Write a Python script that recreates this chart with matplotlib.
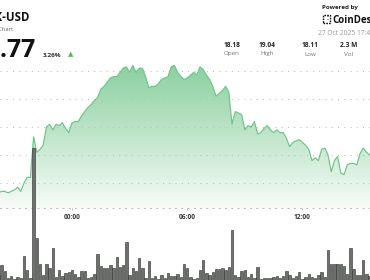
"""Price area chart with volume bars, cropped CoinDesk style card."""

import matplotlib

matplotlib.use("Agg")

import matplotlib.pyplot as plt
import numpy as np
from matplotlib.patches import Rectangle

plt.rcParams["font.family"] = ["Open Sans", "DejaVu Sans"]

# 10-minute candles, hours relative to 00:00 (first one is 20:10 the day before)
START_HOUR = -3.0 - 50 / 60
STEP_HOUR = 1 / 6

close_price = [
    18.13, 18.14, 18.14, 18.13, 18.14, 18.15, 18.17, 18.14, 18.20, 18.24,
    18.24, 18.53, 18.42, 18.44, 18.47, 18.60, 18.62, 18.58, 18.62, 18.61,
    18.63, 18.59, 18.56, 18.63, 18.64, 18.64, 18.68, 18.71, 18.74, 18.76,
    18.79, 18.81, 18.87, 18.89, 18.92, 18.95, 18.96, 18.96, 18.99, 19.02,
    19.03, 18.99, 19.04, 18.99, 19.02, 19.02, 18.96, 18.88, 18.89, 18.89,
    18.91, 18.94, 18.95, 18.96, 19.03, 19.04, 18.99, 18.96, 18.94, 18.95,
    18.97, 18.99, 18.97, 19.03, 19.01, 18.97, 18.94, 18.89, 18.82, 18.84,
    18.86, 18.89, 18.85, 18.62, 18.71, 18.70, 18.69, 18.58, 18.61, 18.60,
    18.64, 18.55, 18.56, 18.59, 18.61, 18.58, 18.56, 18.58, 18.56, 18.56,
    18.52, 18.46, 18.49, 18.50, 18.51, 18.49, 18.47, 18.44, 18.36, 18.38,
    18.36, 18.44, 18.45, 18.40, 18.28, 18.36, 18.39, 18.27, 18.26, 18.33,
    18.34, 18.34, 18.33, 18.41, 18.45, 18.42, 18.40, 18.40,
]

volume_k = [
    5, 15, 9, 2, 4, 1, 3, 2, 24, 10,
    2, 132, 42, 16, 5, 16, 12, 32, 3, 10,
    4, 7, 8, 10, 6, 3, 9, 9, 2, 3,
    6, 26, 14, 12, 12, 15, 12, 23, 13, 15,
    38, 5, 12, 9, 22, 12, 2, 19, 2, 4,
    1, 5, 2, 7, 4, 4, 6, 3, 16, 12,
    3, 1, 2, 10, 20, 7, 5, 8, 11, 11,
    12, 10, 13, 50, 5, 3, 9, 10, 3, 6,
    2, 13, 1, 2, 2, 2, 3, 4, 2, 4,
    9, 5, 2, 4, 8, 1, 3, 6, 3, 2,
    5, 8, 3, 30, 16, 16, 16, 16, 14, 6,
    32, 11, 5, 5, 20, 6, 4, 3,
]

tick_hours = [0, 6, 12]
tick_labels = ["00:00", "06:00", "12:00"]
grid_prices = [18.2, 18.4, 18.6, 18.8, 19.0]

stats_values = ["18.18", "19.04", "18.11", "2.3 M"]
stats_names = ["Open", "High", "Low", "Vol"]

W, H = 370, 280
XLIM = (-3.75, 15.52)
PRICE_YLIM = (18.0214, 19.0786)
GREEN = "#6fc489"


def _fx(px):
    return px / W


def _fy(py):
    return 1 - py / H


def _draw_price(fig, hours):
    ax = fig.add_axes([0, _fy(208), 1, 148 / H])
    ax.set_facecolor("none")
    ax.set_xlim(*XLIM)
    ax.set_ylim(*PRICE_YLIM)

    ymin, ymax = PRICE_YLIM
    poly = ax.fill_between(hours, close_price, ymin, color="none", lw=0)
    grad = np.linspace(1, 0, 256)
    rgba = np.zeros((256, 1, 4))
    rgba[:, 0, :3] = matplotlib.colors.to_rgb("#63c07f")
    rgba[:, 0, 3] = 0.06 + 0.7 * grad
    im = ax.imshow(rgba, extent=[XLIM[0], XLIM[1], ymin, 19.06], aspect="auto",
                   origin="upper", zorder=1, interpolation="bilinear")
    im.set_clip_path(poly.get_paths()[0], transform=ax.transData)
    ax.plot(hours, close_price, color=GREEN, lw=0.85, zorder=3)

    for p in grid_prices:
        ax.axhline(p, color="#bdbdbd", lw=0.75, ls=(0, (1, 5)), zorder=2)

    for side in ["top", "left", "right"]:
        ax.spines[side].set_visible(False)
    ax.spines["bottom"].set_color("#bdbdbd")
    ax.spines["bottom"].set_linewidth(0.75)
    ax.spines["bottom"].set_linestyle((0, (1, 5)))
    ax.set_yticks([])
    ax.set_xticks(tick_hours)
    ax.set_xticklabels(tick_labels, fontsize=4.8, fontweight="bold", color="#333333")
    ax.tick_params(axis="x", length=1.5, width=0.5, color="#999999", pad=3)
    return ax


def _draw_volume(fig, hours):
    ax = fig.add_axes([0, 0, 1, 1])
    ax.set_facecolor("none")
    ax.bar(hours, volume_k, width=STEP_HOUR * 0.75, color="#6e706e",
           edgecolor="#3a3c3a", linewidth=0.45, align="center", zorder=4)
    ax.set_xlim(*XLIM)
    ax.set_ylim(0, H)
    ax.axis("off")


def _draw_header(fig):
    fig.text(_fx(29.5), _fy(21), "LINK-USD", ha="right", va="baseline",
             fontsize=8.3, fontweight="bold", color="#111111")
    fig.text(_fx(13.5), _fy(31), "Price Chart", ha="right", va="baseline",
             fontsize=4.2, color="#666666")
    fig.text(_fx(36.5), _fy(57), "$18.77", ha="right", va="baseline",
             fontsize=18, fontweight="bold", color="#111111")
    fig.text(_fx(43), _fy(57), "3.26%", ha="left", va="baseline",
             fontsize=4.6, fontweight="bold", color="#333333")
    fig.text(_fx(70.5), _fy(54.5), "\u25b2", ha="center", va="center",
             fontsize=5, color="#5cb85c", family=["DejaVu Sans"])

    fig.text(_fx(322), _fy(9), "Powered by", ha="left", va="baseline",
             fontsize=4.5, fontweight="bold", color="#222222")
    fig.add_artist(Rectangle((_fx(322.5), _fy(23)), 7 / W, 7.5 / H,
                             transform=fig.transFigure, fill=False,
                             edgecolor="#111111", lw=1.0, ls=(0, (1.2, 0.8))))
    fig.text(_fx(327.5), _fy(19), ":", ha="center", va="center",
             fontsize=5, fontweight="bold", color="#111111")
    fig.text(_fx(332.5), _fy(23), "CoinDesk", ha="left", va="baseline",
             fontsize=7, fontweight="bold", color="#111111")
    fig.text(_fx(318), _fy(35), "27 Oct 2025 17:40 UTC", ha="left", va="baseline",
             fontsize=4.8, color="#9a9a9a")

    centers = [232, 267, 310, 349]
    for cx, val, name in zip(centers, stats_values, stats_names):
        fig.text(_fx(cx), _fy(47), val, ha="center", va="baseline",
                 fontsize=4.8, fontweight="bold", color="#222222")
        fig.text(_fx(cx), _fy(55.5), name, ha="center", va="baseline",
                 fontsize=4.5, color="#777777")


def main():
    hours = START_HOUR + STEP_HOUR * np.arange(len(close_price))
    fig = plt.figure(figsize=(W / 100, H / 100), dpi=100, facecolor="white")
    _draw_price(fig, hours)
    _draw_volume(fig, hours)
    _draw_header(fig)
    fig.savefig("out.png", dpi=100, facecolor="white")
    plt.close(fig)


if __name__ == "__main__":
    main()
